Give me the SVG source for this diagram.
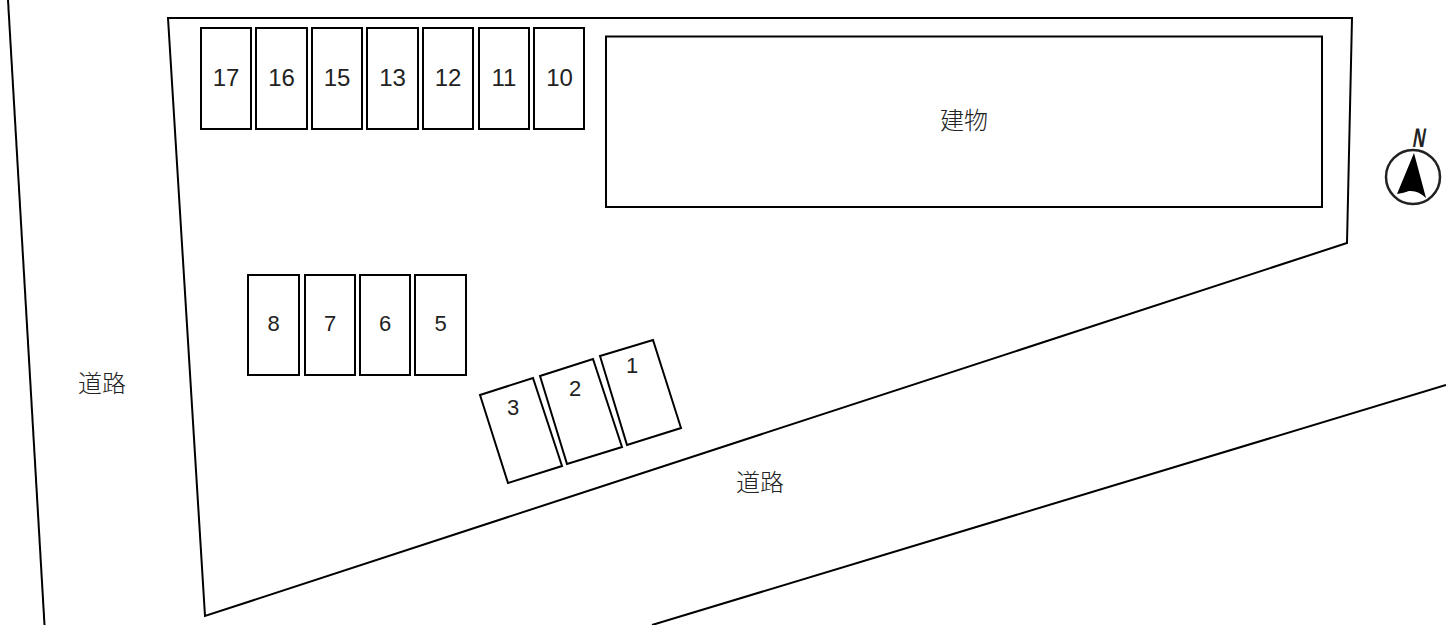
<svg xmlns="http://www.w3.org/2000/svg" width="1446" height="625" viewBox="0 0 1446 625">
<style>
.s{fill:#fff;stroke:#000;stroke-width:2}
.l{fill:none;stroke:#000;stroke-width:2}
text{font-family:"Liberation Sans","Noto Sans CJK JP",sans-serif;font-size:24px;fill:#222;text-anchor:middle}
.n{font-size:22px}
.j{font-family:"Noto Sans CJK JP","Noto Sans CJK SC",sans-serif;font-weight:300}
</style>
<rect width="1446" height="625" fill="#fff"/>
<g id="roads" class="connectors">
<path class="l" d="M8 0L44.500 625"/>
<path class="l" d="M652 625L1446 385"/>
</g>
<g id="site"><path class="l" d="M168 18L1352 18L1347 243L205 616Z"/></g>
<g id="building"><rect class="s" x="606" y="36.500" width="716" height="170.500"/><text class="j" x="964" y="129">建物</text></g>
<g id="p17"><rect class="s" x="201" y="28" width="50" height="101"/><text x="226" y="86">17</text></g>
<g id="p16"><rect class="s" x="256" y="28" width="51" height="101"/><text x="281.500" y="86">16</text></g>
<g id="p15"><rect class="s" x="312" y="28" width="50" height="101"/><text x="337" y="86">15</text></g>
<g id="p13"><rect class="s" x="367" y="28" width="51" height="101"/><text x="392.500" y="86">13</text></g>
<g id="p12"><rect class="s" x="423" y="28" width="50" height="101"/><text x="448" y="86">12</text></g>
<g id="p11"><rect class="s" x="479" y="28" width="50" height="101"/><text x="504" y="86">11</text></g>
<g id="p10"><rect class="s" x="534" y="28" width="50" height="101"/><text x="559.500" y="86">10</text></g>
<g id="p8"><rect class="s" x="248" y="275" width="51" height="100"/><text class="n" x="273.500" y="331">8</text></g>
<g id="p7"><rect class="s" x="305" y="275" width="50" height="100"/><text class="n" x="330" y="331">7</text></g>
<g id="p6"><rect class="s" x="360" y="275" width="50" height="100"/><text class="n" x="385" y="331">6</text></g>
<g id="p5"><rect class="s" x="415" y="275" width="51" height="100"/><text class="n" x="440.500" y="331">5</text></g>
<g id="p3"><path class="s" d="M480 395L533 378L562 466L508 483Z"/><text class="n" x="513" y="415">3</text></g>
<g id="p2"><path class="s" d="M540 376L593 359L622 447L567 464Z"/><text class="n" x="575" y="396">2</text></g>
<g id="p1"><path class="s" d="M600 356L653 340L681 428L627 445Z"/><text class="n" x="632" y="373">1</text></g>
<g id="road-west"><text class="j" x="102" y="392">道路</text></g>
<g id="road-south"><text class="j" x="760" y="491">道路</text></g>
<g id="north">
<circle cx="1413" cy="177" r="27" fill="none" stroke="#222" stroke-width="2.500"/>
<path d="M1414 153L1397 194Q1404 193 1409 191Q1418 190 1426 198Z" fill="#000"/>
<text transform="translate(1418 147) skewX(-10) scale(0.72 1.12)" style="font-size:24px;font-weight:bold;fill:#222">N</text>
</g>
</svg>
